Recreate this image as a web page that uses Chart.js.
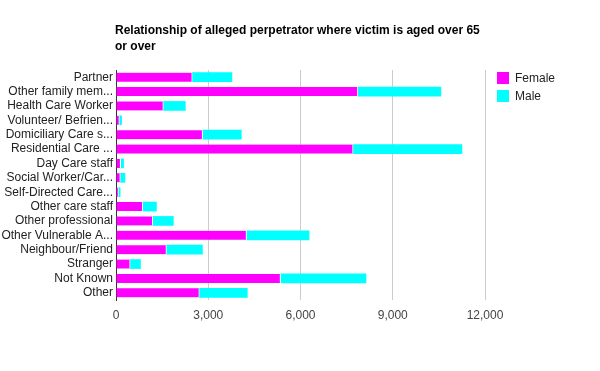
<!DOCTYPE html>
<html>
<head>
<meta charset="utf-8">
<script src="https://cdn.jsdelivr.net/npm/chart.js@4/dist/chart.umd.min.js"></script>
<style>
html,body{margin:0;padding:0;background:#fff;}
#wrap{width:600px;height:371px;position:relative;}
</style>
</head>
<body>
<div id="wrap"><canvas id="c" width="600" height="371"></canvas></div>
<script>
const categories = [
  "Partner",
  "Other family mem...",
  "Health Care Worker",
  "Volunteer/ Befrien...",
  "Domiciliary Care s...",
  "Residential Care ...",
  "Day Care staff",
  "Social Worker/Car...",
  "Self-Directed Care...",
  "Other care staff",
  "Other professional",
  "Other Vulnerable A...",
  "Neighbour/Friend",
  "Stranger",
  "Not Known",
  "Other"
];
const femaleValues = [2480, 7865, 1540, 110, 2815, 7710, 150, 140, 80, 870, 1195, 4245, 1640, 460, 5350, 2710];
const maleValues   = [1290, 2700,  715,  70, 1260, 3540,  95, 150, 55, 445,  670, 2035, 1170, 335, 2780, 1560];
const seriesNames = ["Female", "Male"];
const tickValues = [0, 3000, 6000, 9000, 12000];
const titleLines = ["Relationship of alleged perpetrator where victim is aged over 65", "or over"];

const FONT = "Arial, 'Liberation Sans', sans-serif";
const colors = ["#ff00ff", "#00ffff"];

const overlay = {
  id: 'overlay',
  afterDraw(chart) {
    const ctx = chart.ctx;
    ctx.save();
    // title
    ctx.fillStyle = "#000";
    ctx.font = "bold 12px " + FONT;
    ctx.textBaseline = "alphabetic";
    ctx.textAlign = "left";
    ctx.fillText(titleLines[0], 115, 34);
    ctx.fillText(titleLines[1], 115, 50);
    // legend
    ctx.font = "12px " + FONT;
    ctx.textBaseline = "middle";
    seriesNames.forEach((n, i) => {
      const y = 72 + i * 18;
      ctx.fillStyle = colors[i];
      ctx.fillRect(497, y, 12, 12);
      ctx.fillStyle = "#222";
      ctx.fillText(n, 515, y + 6.5);
    });
    ctx.restore();
  }
};

new Chart(document.getElementById('c'), {
  type: 'bar',
  data: {
    labels: categories,
    datasets: [
      { label: seriesNames[0], data: femaleValues, backgroundColor: colors[0],
        borderColor: "#ffffff", borderWidth: {left:0, top:0, bottom:0, right:1}, borderSkipped: false, barThickness: 9 },
      { label: seriesNames[1], data: maleValues, backgroundColor: colors[1], borderWidth: 0, barThickness: 9 }
    ]
  },
  options: {
    indexAxis: 'y',
    responsive: false,
    animation: false,
    devicePixelRatio: 1,
    layout: { padding: { top: 70, right: 115, bottom: 0, left: 0 } },
    plugins: { legend: { display: false }, title: { display: false }, tooltip: { enabled: false } },
    scales: {
      x: {
        stacked: true,
        min: 0, max: 12000,
        afterBuildTicks(scale) { scale.ticks = tickValues.map(v => ({ value: v })); },
        afterFit(scale) { scale.height = 71; },
        grid: { color: "#cccccc", drawTicks: false, lineWidth: 1 },
        border: { display: false },
        ticks: {
          padding: 8,
          color: "#444",
          font: { family: FONT, size: 12 },
          callback: (v) => Number(v).toLocaleString('en-US')
        }
      },
      y: {
        stacked: true,
        afterFit(scale) { scale.width = 116; },
        grid: { display: false, drawTicks: false },
        border: { display: true, color: "#333333", width: 1 },
        ticks: {
          padding: 3,
          color: "#222",
          autoSkip: false,
          font: { family: FONT, size: 12 }
        }
      }
    }
  },
  plugins: [overlay]
});
</script>
</body>
</html>
